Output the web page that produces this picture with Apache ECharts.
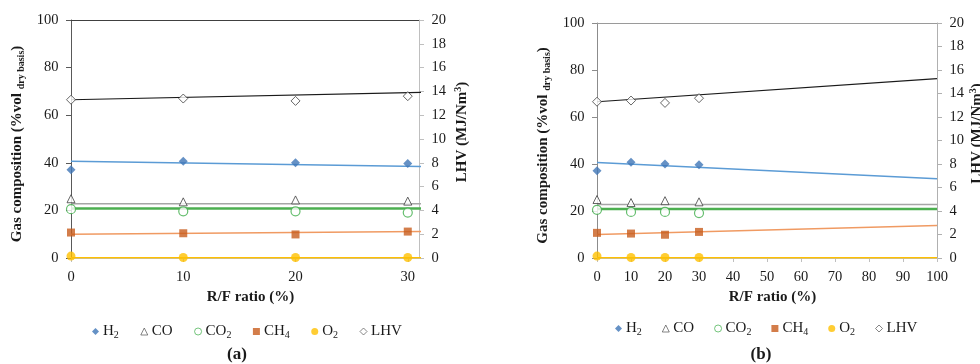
<!DOCTYPE html>
<html>
<head>
<meta charset="utf-8">
<script src="https://cdn.jsdelivr.net/npm/echarts@6/dist/echarts.min.js"></script>
<style>html,body{margin:0;padding:0;background:#fff}#c{width:980px;height:364px}</style>
</head>
<body>
<div id="c"></div>
<script>
// ---- data ----
const rfRatio = [0, 10, 20, 30];
const h2 = [37.1, 40.7, 40.0, 39.7];
const co = [24.9, 23.6, 24.4, 23.9];
const co2 = [20.5, 19.6, 19.6, 19.1];
const ch4 = [10.7, 10.4, 9.9, 11.1];
const o2 = [0.8, 0.2, 0.2, 0.2];
const lhv = [13.3, 13.4, 13.2, 13.6];

const trendX = [0, 100];
const h2Trend = [40.6, 33.7];
const coTrend = [22.8, 22.8];
const co2Trend = [20.8, 20.8];
const ch4Trend = [10.0, 13.8];
const o2Trend = [0.1, 0.1];
const lhvTrend = [13.3, 15.26];

const leftTicks = [0, 20, 40, 60, 80, 100];
const rightTicks = [0, 2, 4, 6, 8, 10, 12, 14, 16, 18, 20];
const xTicksA = [0, 10, 20, 30];
const xTicksB = [0, 10, 20, 30, 40, 50, 60, 70, 80, 90, 100];
const names = ['H2', 'CO', 'CO2', 'CH4', 'O2', 'LHV'];

// ---- chart ----
const FONT = 'Liberation Serif';
const chart = echarts.init(document.getElementById('c'), null, {renderer: 'canvas'});
const pair = (xs, ys) => xs.map((x, i) => [x, ys[i]]);

const markerDefs = [
  {name: 'H2', data: h2, y: 0, symbol: 'diamond', size: 9, itemStyle: {color: '#3f76b6'}},
  {name: 'CO', data: co, y: 0, symbol: 'triangle', size: 8, itemStyle: {color: '#ffffff', borderColor: '#404040', borderWidth: 1}},
  {name: 'CO2', data: co2, y: 0, symbol: 'circle', size: 9, itemStyle: {color: '#ffffff', borderColor: '#3fae4a', borderWidth: 1.2}},
  {name: 'CH4', data: ch4, y: 0, symbol: 'rect', size: 8, itemStyle: {color: '#c85d1d'}},
  {name: 'O2', data: o2, y: 0, symbol: 'circle', size: 9, itemStyle: {color: '#ffc000'}},
  {name: 'LHV', data: lhv, y: 1, symbol: 'diamond', size: 9, itemStyle: {color: '#ffffff', borderColor: '#404040', borderWidth: 1}}
];
const trendDefs = [
  {data: h2Trend, y: 0, color: '#5b9bd5', w: 1.5},
  {data: coTrend, y: 0, color: '#a6a6a6', w: 1.5},
  {data: co2Trend, y: 0, color: '#4caf50', w: 2.5},
  {data: ch4Trend, y: 0, color: '#f09a62', w: 1.5},
  {data: o2Trend, y: 0, color: '#ffc000', w: 1.5},
  {data: lhvTrend, y: 1, color: '#1a1a1a', w: 1.2}
];

function seriesFor(panel) {
  const xi = panel * 2;
  const yi = panel * 2;
  const out = [];
  trendDefs.forEach((t, k) => out.push({
    type: 'line', name: 'trend' + panel + '_' + k, xAxisIndex: xi, yAxisIndex: yi + t.y,
    data: pair(trendX, t.data), showSymbol: false, symbol: 'none', silent: true,
    lineStyle: {color: t.color, width: t.w}, z: 2, clip: true
  }));
  markerDefs.forEach(m => out.push({
    type: 'scatter', name: m.name, xAxisIndex: xi, yAxisIndex: yi + m.y,
    data: pair(rfRatio, m.data), symbol: m.symbol, symbolSize: m.size,
    itemStyle: m.itemStyle, z: 5
  }));
  return out;
}

const labelStyle = {fontFamily: FONT, fontSize: 14.5, color: '#1a1a1a'};
const nameStyle = {fontFamily: FONT, fontSize: 15, fontWeight: 'bold', color: '#1a1a1a'};

function xAxisFor(grid, max, ticks, color, gap) {
  return {
    type: 'value', gridIndex: grid, min: 0, max: max, interval: 10, position: 'bottom',
    axisLine: {show: true, lineStyle: {color: color, width: 1}},
    axisTick: {show: true, length: 4, customValues: ticks, lineStyle: {color: color}},
    axisLabel: Object.assign({margin: 12, customValues: ticks}, labelStyle),
    splitLine: {show: false},
    name: 'R/F ratio (%)', nameLocation: 'middle', nameGap: gap,
    nameTextStyle: Object.assign({padding: [0, 0, 0, 11]}, nameStyle)
  };
}
function topBorder(grid, color) {
  return {
    type: 'value', gridIndex: grid, min: 0, max: 1, position: 'top',
    axisLine: {show: true, onZero: false, lineStyle: {color: color, width: 1}},
    axisTick: {show: false}, axisLabel: {show: false}, splitLine: {show: false}
  };
}
const leftName = {
  name: '{t|Gas composition (%vol }{s|dry basis}{t|)}', nameLocation: 'middle', nameGap: 45,
  nameTextStyle: {padding: [0, 10, 0, 0], rich: {
    t: {fontFamily: FONT, fontSize: 15, fontWeight: 'bold', color: '#1a1a1a', lineHeight: 18},
    s: {fontFamily: FONT, fontSize: 10, fontWeight: 'bold', color: '#1a1a1a', lineHeight: 10, verticalAlign: 'bottom'}
  }}
};
const rightName = (gap) => ({
  name: '{t|LHV (MJ/Nm}{p|3}{t|)}', nameLocation: 'middle', nameGap: gap,
  nameTextStyle: {padding: [0, 0, 0, 14], rich: {
    t: {fontFamily: FONT, fontSize: 15, fontWeight: 'bold', color: '#1a1a1a', lineHeight: 18},
    p: {fontFamily: FONT, fontSize: 10, fontWeight: 'bold', color: '#1a1a1a', lineHeight: 10, verticalAlign: 'top'}
  }}
});
function yLeft(grid, color) {
  return Object.assign({
    type: 'value', gridIndex: grid, min: 0, max: 100, interval: 20, position: 'left',
    axisLine: {show: true, onZero: false, lineStyle: {color: color}},
    axisTick: {show: true, length: 5, lineStyle: {color: color}},
    axisLabel: Object.assign({margin: 12.5, padding: [3, 0, 0, 0]}, labelStyle),
    splitLine: {show: false}
  }, leftName);
}
function yRight(grid, color, gap) {
  return Object.assign({
    type: 'value', gridIndex: grid, min: 0, max: 20, interval: 2, position: 'right',
    axisLine: {show: true, onZero: false, lineStyle: {color: color}},
    axisTick: {show: true, length: 5, lineStyle: {color: color}},
    axisLabel: Object.assign({margin: 12.5, padding: [3, 0, 0, 0]}, labelStyle),
    splitLine: {show: false}
  }, rightName(gap));
}
const legendIcons = {
  H2: {icon: 'diamond', itemStyle: {color: '#3f76b6', borderWidth: 0}},
  CO: {icon: 'triangle', itemStyle: {color: '#ffffff', borderColor: '#555555', borderWidth: 0.9}},
  CO2: {icon: 'circle', itemStyle: {color: '#ffffff', borderColor: '#3fae4a', borderWidth: 0.9}},
  CH4: {icon: 'rect', itemStyle: {color: '#c85d1d', borderWidth: 0}},
  O2: {icon: 'circle', itemStyle: {color: '#ffc000', borderWidth: 0}},
  LHV: {icon: 'diamond', itemStyle: {color: '#ffffff', borderColor: '#555555', borderWidth: 0.9}}
};
function legendFor(left, top, gap) {
  return {
    data: names.map(n => Object.assign({name: n}, legendIcons[n])),
    left: left, top: top, orient: 'horizontal',
    itemWidth: 7, itemHeight: 7, itemGap: gap, selectedMode: false,
    formatter: n => {
      const m = n.match(/^([A-Z]+)(\d?)$/);
      return '{n|' + m[1] + '}' + (m[2] ? '{s|' + m[2] + '}' : '');
    },
    textStyle: {padding: [0, 0, 0, -1], rich: {
      n: {fontFamily: FONT, fontSize: 15, color: '#1a1a1a', lineHeight: 18},
      s: {fontFamily: FONT, fontSize: 10, color: '#1a1a1a', lineHeight: 10, verticalAlign: 'bottom'}
    }}
  };
}

const option = {
  animation: false,
  backgroundColor: '#ffffff',
  grid: [
    {left: 71, top: 20, width: 348, height: 238, containLabel: false, outerBoundsMode: 'none'},
    {left: 597, top: 23, width: 340, height: 235, containLabel: false, outerBoundsMode: 'none'}
  ],
  xAxis: [
    xAxisFor(0, 31, xTicksA, '#bfbfbf', 32),
    topBorder(0, '#404040'),
    xAxisFor(1, 100, xTicksB, '#bfbfbf', 29),
    topBorder(1, '#9a9a9a')
  ],
  yAxis: [
    yLeft(0, '#595959'),
    yRight(0, '#bfbfbf', 34),
    yLeft(1, '#8c8c8c'),
    yRight(1, '#b0b0b0', 31)
  ],
  legend: [legendFor(87, 319, 21.5), legendFor(610, 316, 20)],
  graphic: [
    {type: 'text', x: 237, y: 355, style: {text: '(a)', fontFamily: FONT, fontSize: 17, fontWeight: 'bold', fill: '#1a1a1a', align: 'center', verticalAlign: 'middle'}},
    {type: 'text', x: 761, y: 355, style: {text: '(b)', fontFamily: FONT, fontSize: 17, fontWeight: 'bold', fill: '#1a1a1a', align: 'center', verticalAlign: 'middle'}}
  ],
  series: seriesFor(0).concat(seriesFor(1))
};
chart.setOption(option);
</script>
</body>
</html>
